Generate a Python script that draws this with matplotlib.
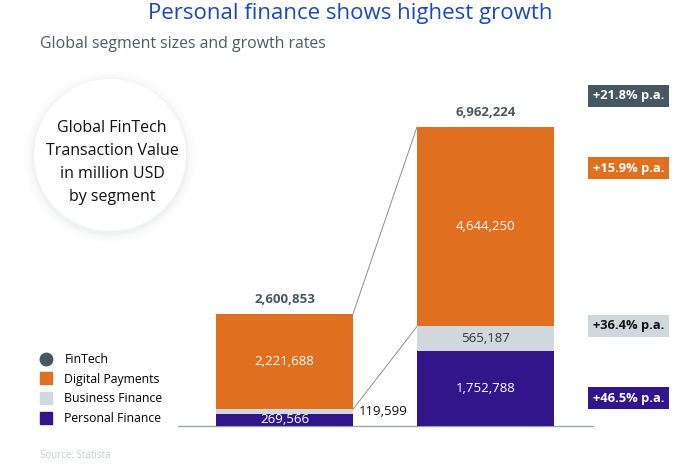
import matplotlib
matplotlib.use("Agg")
import matplotlib.pyplot as plt
from matplotlib.patches import Ellipse
from matplotlib.lines import Line2D

# ---- data ----
years = ["2017", "2022"]
personal = [269566, 1752788]
business = [119599, 565187]
digital = [2221688, 4644250]
fintech_total = [2600853, 6962224]
segments = ["FinTech", "Digital Payments", "Business Finance", "Personal Finance"]
growth = ["+21.8% p.a.", "+15.9% p.a.", "+36.4% p.a.", "+46.5% p.a."]

C_FIN = "#475761"
C_DIG = "#E07020"
C_BUS = "#D0D8DD"
C_PER = "#32158A"
FONT = ["Open Sans", "DejaVu Sans"]
plt.rcParams["font.family"] = FONT

W, H = 700, 465
fig = plt.figure(figsize=(7, 4.65), dpi=100)
fig.patch.set_facecolor("white")

def fx(px):
    return px / W

def fy(py):
    return 1 - py / H

# axes in pixel geometry
ax_l, ax_r, ax_b = 178, 593, 426
ymax = 7.5e6
px_per_unit = 299 / 6962224
ax_t = ax_b - ymax * px_per_unit
ax = fig.add_axes([fx(ax_l), fy(ax_b), fx(ax_r - ax_l), (ax_b - ax_t) / H])
ax.set_ylim(0, ymax)
u = 201.0
ax.set_xlim(-(284.5 - ax_l) / u, (ax_r - 284.5) / u)
bw = 137 / u
xs = [0, 1]

ax.bar(xs, personal, width=bw, color=C_PER, zorder=3)
ax.bar(xs, business, width=bw, bottom=personal, color=C_BUS, zorder=3)
bot2 = [p + b for p, b in zip(personal, business)]
ax.bar(xs, digital, width=bw, bottom=bot2, color=C_DIG, zorder=3)
tops = [b + d for b, d in zip(bot2, digital)]

# connecting lines
ax.plot([xs[0] + bw / 2, xs[1] - bw / 2], [tops[0], tops[1]], color="#8A8F94", lw=0.7, zorder=2)
ax.plot([xs[0] + bw / 2, xs[1] - bw / 2], [bot2[0], bot2[1]], color="#8A8F94", lw=0.7, zorder=2)

min_lab = 7 / px_per_unit
for i in xs:
    ax.text(i, max(personal[i] / 2, min_lab), f"{personal[i]:,}", ha="center", va="center",
            color="white", fontsize=9.5, zorder=4)
    ax.text(i, bot2[i] + digital[i] / 2, f"{digital[i]:,}", ha="center", va="center",
            color="white", fontsize=9.5, zorder=4)
    ax.text(i, tops[i] + 8 / px_per_unit, f"{fintech_total[i]:,}", ha="center", va="bottom",
            color=C_FIN, fontsize=9.5, fontweight="bold", zorder=4)
ax.text(xs[0] + bw / 2 + 6 / u, personal[0] + business[0] / 2, f"{business[0]:,}",
        ha="left", va="center", color="#111111", fontsize=9.5)
ax.text(xs[1], personal[1] + business[1] / 2, f"{business[1]:,}", ha="center", va="center",
        color="#333333", fontsize=9.5, zorder=4)

for s in ["top", "left", "right"]:
    ax.spines[s].set_visible(False)
ax.spines["bottom"].set_color("#9AA5AE")
ax.spines["bottom"].set_linewidth(1.0)
ax.set_xticks([])
ax.set_yticks([])
ax.patch.set_alpha(0)

# title / subtitle
fig.text(0.5, fy(13), "Personal finance shows highest growth", ha="center", va="center",
         color="#1A47C2", fontsize=16)
fig.text(fx(40), fy(44), "Global segment sizes and growth rates", ha="left", va="center",
         color="#4F5A62", fontsize=11.4)

# circle with shadow
cx, cy, r = 110, 155, 76
for k, a in [(10, 0.015), (7, 0.025), (4, 0.035), (2, 0.045)]:
    fig.add_artist(Ellipse((fx(cx), fy(cy + 2)), 2 * (r + k) / W, 2 * (r + k) / H,
                           transform=fig.transFigure, facecolor="#8090A0", alpha=a,
                           edgecolor="none"))
fig.add_artist(Ellipse((fx(cx), fy(cy)), 2 * r / W, 2 * r / H, transform=fig.transFigure,
                       facecolor="white", edgecolor="none"))
circ_lines = ["Global FinTech", "Transaction Value", "in million USD", "by segment"]
for j, line in enumerate(circ_lines):
    fig.text(fx(112), fy(128 + j * 23), line, ha="center", va="center",
             color="#111111", fontsize=11.5)

# legend
handles = [Line2D([], [], marker="o", ls="none", color=C_FIN, markersize=9),
           Line2D([], [], marker="s", ls="none", color=C_DIG, markersize=9),
           Line2D([], [], marker="s", ls="none", color=C_BUS, markersize=9),
           Line2D([], [], marker="s", ls="none", color=C_PER, markersize=9)]
fig.legend(handles, segments, loc="upper left", bbox_to_anchor=(fx(35), fy(348)),
           frameon=False, fontsize=8.8, handletextpad=1.0, labelspacing=0.55,
           handlelength=1.0, borderaxespad=0)

# growth badges
badge_y = [96, 168, 326, 398]
badge_c = [C_FIN, C_DIG, C_BUS, C_PER]
badge_t = ["white", "white", "#111111", "white"]
for txt, yy, c, tc in zip(growth, badge_y, badge_c, badge_t):
    fig.text(fx(593), fy(yy), txt, ha="left", va="center", color=tc, fontsize=9.3,
             fontweight="bold",
             bbox=dict(boxstyle="square,pad=0.35", facecolor=c, edgecolor="none"))

fig.text(fx(40), fy(455), "Source: Statista", ha="left", va="center", color="#C5CBD0",
         fontsize=7)

fig.savefig("out.png", dpi=100)
